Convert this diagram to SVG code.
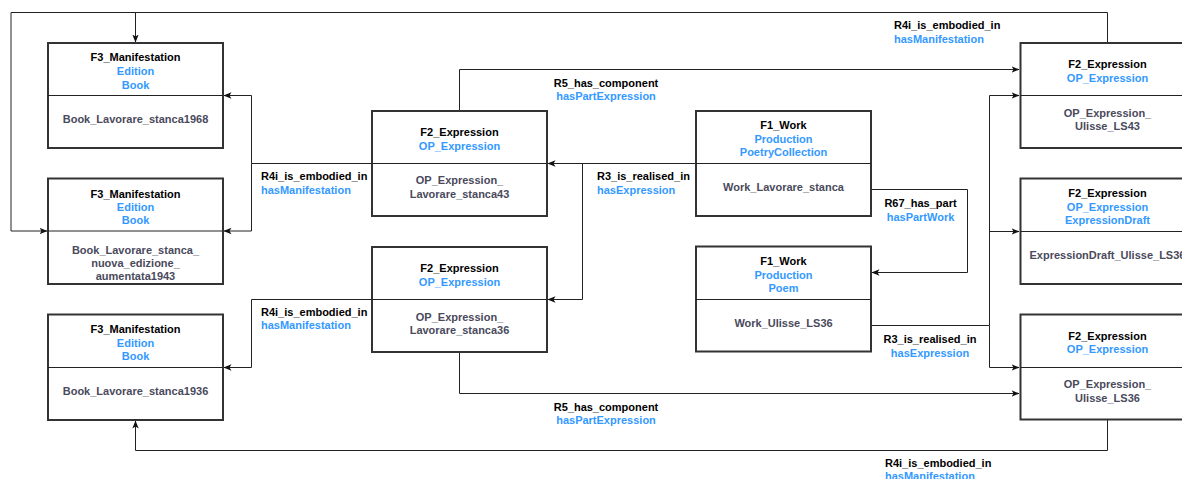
<svg xmlns="http://www.w3.org/2000/svg" width="1182" height="479" viewBox="0 0 1182 479">
  <style>
    text { font-family: "Liberation Sans", Arial, sans-serif; font-size: 11px; font-weight: bold; }
    .box { fill: #ffffff; stroke: #333333; stroke-width: 2; }
    .div { stroke: #222222; stroke-width: 1; }
    .t { fill: #000000; text-anchor: middle; }
    .b { fill: #3399ff; text-anchor: middle; }
    .v { fill: #4a4a5c; text-anchor: middle; }
    .lk { fill: #000000; }
    .lb { fill: #3399ff; }
    .c { text-anchor: middle; }
    .edge { fill: none; stroke: #222222; stroke-width: 1; }
  </style>
  <defs>
    <marker id="arr" viewBox="0 0 8 8" refX="7.5" refY="4" markerWidth="8" markerHeight="8" markerUnits="userSpaceOnUse" orient="auto">
      <path d="M0,0.8 L8,4 L0,7.2 L2,4 z" fill="#111111"/>
    </marker>
  </defs>
  <rect width="1182" height="479" fill="#ffffff"/>

  <!-- connectors -->
  <g id="connectors">
    <!-- Ulisse_LS43 -> Book 1968 / Book 1943 -->
    <path class="edge" d="M1107.5,43 V12.5 H11 V231 H47" marker-end="url(#arr)"/>
    <path class="edge" d="M135.5,12.5 V42" marker-end="url(#arr)"/>
    <!-- Lavorare_stanca43 -> Book 1968 / Book 1943 -->
    <path class="edge" d="M372,163.5 H251.5 V95.5 H224" marker-end="url(#arr)"/>
    <path class="edge" d="M251.5,163.5 V231 H224" marker-end="url(#arr)"/>
    <!-- Lavorare_stanca36 -> Book 1936 -->
    <path class="edge" d="M372,299.5 H251.5 V367.5 H224" marker-end="url(#arr)"/>
    <!-- R5 has_component -->
    <path class="edge" d="M459.5,111 V69.5 H1019" marker-end="url(#arr)"/>
    <path class="edge" d="M459.5,352 V393.5 H1019" marker-end="url(#arr)"/>
    <!-- Work_Lavorare_stanca -> expressions -->
    <path class="edge" d="M696,163.5 H548" marker-end="url(#arr)"/>
    <path class="edge" d="M582.5,163.5 V299.5 H548" marker-end="url(#arr)"/>
    <!-- R67 has_part -->
    <path class="edge" d="M871,189.5 H967.5 V272.5 H872" marker-end="url(#arr)"/>
    <!-- Work_Ulisse_LS36 -> expressions -->
    <path class="edge" d="M871,325.5 H989.5 V95.5 H1019" marker-end="url(#arr)"/>
    <path class="edge" d="M989.5,231.5 H1019" marker-end="url(#arr)"/>
    <path class="edge" d="M989.5,325.5 V367.5 H1019" marker-end="url(#arr)"/>
    <!-- Ulisse_LS36 -> Book 1936 -->
    <path class="edge" d="M1107.5,420 V450.5 H135.5 V421" marker-end="url(#arr)"/>

    <!-- edge labels -->
    <text class="lk" x="894" y="29">R4i_is_embodied_in</text>
    <text class="lb" x="894" y="42.5">hasManifestation</text>
    <text class="lk c" x="606" y="86.5">R5_has_component</text>
    <text class="lb c" x="606" y="100">hasPartExpression</text>
    <text class="lk" x="261" y="180">R4i_is_embodied_in</text>
    <text class="lb" x="261" y="193.5">hasManifestation</text>
    <text class="lk" x="597" y="180">R3_is_realised_in</text>
    <text class="lb" x="597" y="193.5">hasExpression</text>
    <text class="lk c" x="920.5" y="207">R67_has_part</text>
    <text class="lb c" x="920.5" y="220.5">hasPartWork</text>
    <text class="lk" x="261" y="315.5">R4i_is_embodied_in</text>
    <text class="lb" x="261" y="329">hasManifestation</text>
    <text class="lk c" x="930" y="343">R3_is_realised_in</text>
    <text class="lb c" x="930" y="356.5">hasExpression</text>
    <text class="lk c" x="606" y="410.5">R5_has_component</text>
    <text class="lb c" x="606" y="424">hasPartExpression</text>
    <text class="lk" x="885" y="466.5">R4i_is_embodied_in</text>
    <text class="lb" x="885" y="480">hasManifestation</text>
  </g>

  <!-- manifestations -->
  <g id="book1968">
    <rect class="box" x="48" y="43" width="175" height="105"/>
    <line class="div" x1="48" y1="95.5" x2="223" y2="95.5"/>
    <text class="t" x="135.5" y="61">F3_Manifestation</text>
    <text class="b" x="135.5" y="75">Edition</text>
    <text class="b" x="135.5" y="88.5">Book</text>
    <text class="v" x="135.5" y="123">Book_Lavorare_stanca1968</text>
  </g>
  <g id="book1943">
    <rect class="box" x="48" y="178.5" width="175" height="105.5"/>
    <line class="div" x1="48" y1="231" x2="223" y2="231"/>
    <text class="t" x="135.5" y="197.5">F3_Manifestation</text>
    <text class="b" x="135.5" y="211">Edition</text>
    <text class="b" x="135.5" y="224">Book</text>
    <text class="v" x="135.5" y="253.5">Book_Lavorare_stanca_</text>
    <text class="v" x="135.5" y="267">nuova_edizione_</text>
    <text class="v" x="135.5" y="280">aumentata1943</text>
  </g>
  <g id="book1936">
    <rect class="box" x="48" y="314.5" width="175" height="105.5"/>
    <line class="div" x1="48" y1="367.5" x2="223" y2="367.5"/>
    <text class="t" x="135.5" y="333">F3_Manifestation</text>
    <text class="b" x="135.5" y="346.5">Edition</text>
    <text class="b" x="135.5" y="360">Book</text>
    <text class="v" x="135.5" y="394.5">Book_Lavorare_stanca1936</text>
  </g>

  <!-- expressions of Lavorare stanca -->
  <g id="expr-stanca43">
    <rect class="box" x="372" y="111" width="175" height="105"/>
    <line class="div" x1="372" y1="163.5" x2="547" y2="163.5"/>
    <text class="t" x="459.5" y="136">F2_Expression</text>
    <text class="b" x="459.5" y="149.5">OP_Expression</text>
    <text class="v" x="459.5" y="184">OP_Expression_</text>
    <text class="v" x="459.5" y="198">Lavorare_stanca43</text>
  </g>
  <g id="expr-stanca36">
    <rect class="box" x="372" y="247" width="175" height="105"/>
    <line class="div" x1="372" y1="299.5" x2="547" y2="299.5"/>
    <text class="t" x="459.5" y="272">F2_Expression</text>
    <text class="b" x="459.5" y="285.5">OP_Expression</text>
    <text class="v" x="459.5" y="320.5">OP_Expression_</text>
    <text class="v" x="459.5" y="334">Lavorare_stanca36</text>
  </g>

  <!-- works -->
  <g id="work-stanca">
    <rect class="box" x="696" y="111" width="175" height="105"/>
    <line class="div" x1="696" y1="163.5" x2="871" y2="163.5"/>
    <text class="t" x="783.5" y="129">F1_Work</text>
    <text class="b" x="783.5" y="143">Production</text>
    <text class="b" x="783.5" y="156">PoetryCollection</text>
    <text class="v" x="783.5" y="191">Work_Lavorare_stanca</text>
  </g>
  <g id="work-ulisse">
    <rect class="box" x="696" y="246.5" width="175" height="105"/>
    <line class="div" x1="696" y1="299.5" x2="871" y2="299.5"/>
    <text class="t" x="783.5" y="265">F1_Work</text>
    <text class="b" x="783.5" y="278.5">Production</text>
    <text class="b" x="783.5" y="292">Poem</text>
    <text class="v" x="783.5" y="326.5">Work_Ulisse_LS36</text>
  </g>

  <!-- expressions of Ulisse -->
  <g id="expr-ulisse43">
    <rect class="box" x="1020.5" y="43" width="175" height="105"/>
    <line class="div" x1="1020.5" y1="95.5" x2="1195" y2="95.5"/>
    <text class="t" x="1107.5" y="68">F2_Expression</text>
    <text class="b" x="1107.5" y="82">OP_Expression</text>
    <text class="v" x="1107.5" y="116.5">OP_Expression_</text>
    <text class="v" x="1107.5" y="130">Ulisse_LS43</text>
  </g>
  <g id="expr-draft">
    <rect class="box" x="1020.5" y="178.5" width="175" height="105.5"/>
    <line class="div" x1="1020.5" y1="231.5" x2="1195" y2="231.5"/>
    <text class="t" x="1107.5" y="197">F2_Expression</text>
    <text class="b" x="1107.5" y="211">OP_Expression</text>
    <text class="b" x="1107.5" y="224">ExpressionDraft</text>
    <text class="v" x="1107.5" y="259">ExpressionDraft_Ulisse_LS36</text>
  </g>
  <g id="expr-ulisse36">
    <rect class="box" x="1020.5" y="314.5" width="175" height="105"/>
    <line class="div" x1="1020.5" y1="367.5" x2="1195" y2="367.5"/>
    <text class="t" x="1107.5" y="339.5">F2_Expression</text>
    <text class="b" x="1107.5" y="353">OP_Expression</text>
    <text class="v" x="1107.5" y="388">OP_Expression_</text>
    <text class="v" x="1107.5" y="401.5">Ulisse_LS36</text>
  </g>
</svg>
